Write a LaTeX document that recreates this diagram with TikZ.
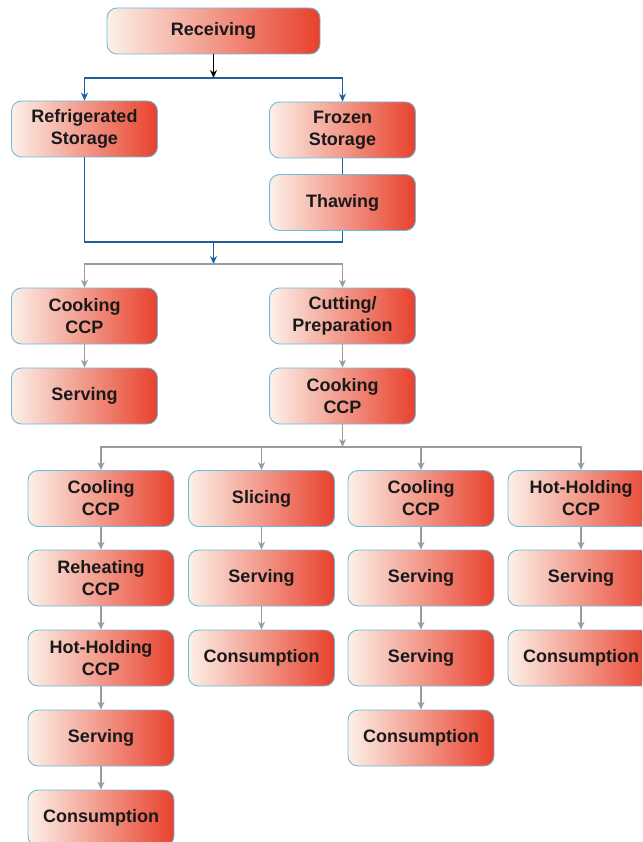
\documentclass[tikz,border=0pt]{standalone}
\usepackage{fontspec}
\setmainfont{Liberation Sans}
\usepackage{tikz}
\usetikzlibrary{arrows.meta}
\definecolor{lineblue}{HTML}{1F5E9C}
\definecolor{linegray}{HTML}{9B9B9B}
\definecolor{boxedge}{HTML}{6CBDDD}
\definecolor{boxlight}{HTML}{FCF0E8}
\definecolor{boxmid}{HTML}{EE9A86}
\definecolor{boxred}{HTML}{E8412C}

\begin{document}
\begin{tikzpicture}[x=1pt,y=-1pt,>={Stealth[length=8pt,width=7pt]},
  procbox/.style={draw=boxedge,line width=0.9pt,rounded corners=10pt,left color=boxlight,middle color=boxmid,right color=boxred,
    minimum width=146pt,minimum height=56pt,inner sep=2pt,align=center,text=black!90,
    font=\bfseries\fontsize{18}{22}\selectfont},
  blueflow/.style={draw=lineblue,line width=1.2pt},
  grayflow/.style={draw=linegray,line width=1.2pt}]
\clip (0,0) rectangle (642,842);
\fill[white] (0,0) rectangle (642,842);
% receiving and storage
\node[procbox,minimum width=213pt,minimum height=46pt] (rec) at (213.5,31) {Receiving};
\node[procbox] (refr) at (84.5,129) {Refrigerated\\Storage};
\node[procbox] (froz) at (342.5,130) {Frozen\\Storage};
\node[procbox] (thaw) at (342.5,202.5) {Thawing};
\coordinate (split) at (213.5,78);
\coordinate (merge) at (213.5,242);
\coordinate (prep) at (213.5,264);
\draw[line width=1.4pt,->] (rec) -- (split);
\draw[blueflow,->] (split) -| (refr);
\draw[blueflow,->] (split) -| (froz);
\draw[blueflow] (froz) -- (thaw);
\draw[blueflow] (refr) |- (merge) -| (thaw);
\draw[blueflow,->] (merge) -- (prep);
% preparation
\node[procbox] (cook1) at (84.5,316) {Cooking\\CCP};
\node[procbox] (cut) at (342.5,316) {Cutting/\\Preparation};
\node[procbox] (serv1) at (84.5,396) {Serving};
\node[procbox] (cook2) at (342.5,396) {Cooking\\CCP};
\draw[grayflow,->] (prep) -| (cook1);
\draw[grayflow,->] (prep) -| (cut);
\draw[grayflow,->] (cook1) -- (serv1);
\draw[grayflow,->] (cut) -- (cook2);
\coordinate (fan) at (342.5,447);
\draw[grayflow,->] (cook2) -- (fan);
% four branches
\node[procbox] (cool1) at (101,498.5) {Cooling\\CCP};
\node[procbox] (reheat) at (101,578) {Reheating\\CCP};
\node[procbox] (hold1) at (101,658) {Hot-Holding\\CCP};
\node[procbox] (serv2) at (101,738) {Serving};
\node[procbox] (cons1) at (101,818) {Consumption};
\node[procbox] (slice) at (261.5,498.5) {Slicing};
\node[procbox] (serv3) at (261.5,578) {Serving};
\node[procbox] (cons2) at (261.5,658) {Consumption};
\node[procbox] (cool2) at (421,498.5) {Cooling\\CCP};
\node[procbox] (serv4) at (421,578) {Serving};
\node[procbox] (serv5) at (421,658) {Serving};
\node[procbox] (cons3) at (421,738) {Consumption};
\node[procbox] (hold2) at (581,498.5) {Hot-Holding\\CCP};
\node[procbox] (serv6) at (581,578) {Serving};
\node[procbox] (cons4) at (581,658) {Consumption};
\draw[grayflow,->] (fan) -| (cool1);
\draw[grayflow,->] (fan) -| (slice);
\draw[grayflow,->] (fan) -| (cool2);
\draw[grayflow,->] (fan) -| (hold2);
\draw[grayflow,->] (cool1) -- (reheat);
\draw[grayflow,->] (reheat) -- (hold1);
\draw[grayflow,->] (hold1) -- (serv2);
\draw[grayflow,->] (serv2) -- (cons1);
\draw[grayflow,->] (slice) -- (serv3);
\draw[grayflow,->] (serv3) -- (cons2);
\draw[grayflow,->] (cool2) -- (serv4);
\draw[grayflow,->] (serv4) -- (serv5);
\draw[grayflow,->] (serv5) -- (cons3);
\draw[grayflow,->] (hold2) -- (serv6);
\draw[grayflow,->] (serv6) -- (cons4);
\end{tikzpicture}
\end{document}
